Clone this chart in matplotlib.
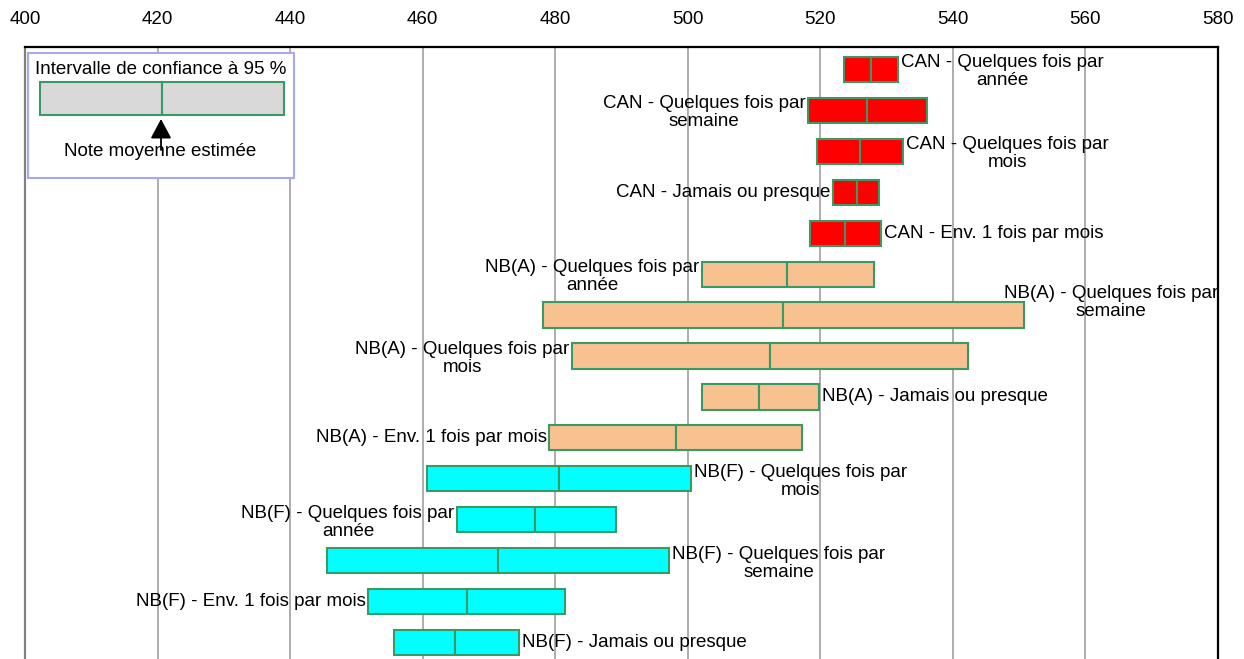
import matplotlib
matplotlib.use("Agg")
import matplotlib.pyplot as plt
from matplotlib.patches import Rectangle

plt.rcParams["font.family"] = ["Liberation Sans", "DejaVu Sans"]

# Groupes et fréquences, de haut en bas
labels = [
    "CAN - Quelques fois par\nannée",
    "CAN - Quelques fois par\nsemaine",
    "CAN - Quelques fois par\nmois",
    "CAN - Jamais ou presque",
    "CAN - Env. 1 fois par mois",
    "NB(A) - Quelques fois par\nannée",
    "NB(A) - Quelques fois par\nsemaine",
    "NB(A) - Quelques fois par\nmois",
    "NB(A) - Jamais ou presque",
    "NB(A) - Env. 1 fois par mois",
    "NB(F) - Quelques fois par\nmois",
    "NB(F) - Quelques fois par\nannée",
    "NB(F) - Quelques fois par\nsemaine",
    "NB(F) - Env. 1 fois par mois",
    "NB(F) - Jamais ou presque",
]
groups = ["CAN"] * 5 + ["NB(A)"] * 5 + ["NB(F)"] * 5

# Note moyenne estimée et intervalle de confiance à 95 %
means = [527.6, 527.0, 526.0, 525.5, 523.7,
         514.9, 514.4, 512.4, 510.8, 498.2,
         480.6, 477.0, 471.3, 466.7, 464.9]
lower = [523.6, 518.2, 519.5, 521.9, 518.5,
         502.1, 478.1, 482.5, 502.1, 479.1,
         460.7, 465.2, 445.6, 451.8, 455.6]
upper = [531.7, 536.1, 532.4, 528.8, 529.1,
         528.1, 550.8, 542.3, 519.8, 517.2,
         500.5, 489.1, 497.1, 481.4, 474.5]

# Côté de l'étiquette : à gauche (L), à droite (R) ou calée sur le bord (E)
label_side = ["R", "L", "R", "L", "R",
              "L", "E", "L", "R", "L",
              "R", "L", "R", "L", "R"]

xticks = [400, 420, 440, 460, 480, 500, 520, 540, 560, 580]

group_colors = {"CAN": "#ff0000", "NB(A)": "#f8c190", "NB(F)": "#00ffff"}
edge = "#3a9a66"
W, H = 1244, 659
FS = 13.5
LS = 1.12

fig = plt.figure(figsize=(W / 100, H / 100), dpi=100)
ax = fig.add_axes([25 / W, -6 / H, (1218 - 25) / W, (665 - 47) / H])

n = len(labels)
rows = list(range(n))
colors = [group_colors[g] for g in groups]
bh = 0.61

left_w = [m - lo for m, lo in zip(means, lower)]
right_w = [up - m for up, m in zip(upper, means)]
ax.barh(rows, left_w, left=lower, height=bh, color=colors,
        edgecolor=edge, linewidth=1.5, zorder=3)
ax.barh(rows, right_w, left=means, height=bh, color=colors,
        edgecolor=edge, linewidth=1.5, zorder=3)

for i, (lab, side) in enumerate(zip(labels, label_side)):
    dy = 0.06 if "\n" in lab else 0.0
    kw = dict(va="center", multialignment="center", fontsize=FS,
              linespacing=LS, zorder=4)
    if side == "R":
        ax.text(upper[i] + 0.5, i + dy, lab, ha="left", **kw)
    elif side == "L":
        ax.text(lower[i] - 0.4, i + dy, lab, ha="right", **kw)
    else:
        ax.text(580.0, i - 0.3, lab, ha="right", **kw)

ax.set_xlim(400, 580)
ax.set_ylim(n - 0.463, -0.537)
ax.set_xticks(xticks)
ax.xaxis.tick_top()
ax.tick_params(axis="x", length=0, pad=13.5, labelsize=FS)
ax.set_yticks([])
ax.grid(axis="x", color="#a0a0a0", linewidth=1.2, zorder=0)
ax.set_axisbelow(True)
for s in ["top", "right"]:
    ax.spines[s].set_color("black")
    ax.spines[s].set_linewidth(1.6)
ax.spines["left"].set_color("#808080")
ax.spines["left"].set_linewidth(1.6)
ax.spines["bottom"].set_visible(False)

# Encadré explicatif (coordonnées en pixels de la figure)
lg = fig.add_axes([0, 0, 1, 1], facecolor="none")
lg.set_xlim(0, W)
lg.set_ylim(H, 0)
lg.axis("off")
lg.add_patch(Rectangle((28, 52.5), 266, 125, facecolor="white",
                       edgecolor="#a8a8f0", linewidth=1.5, zorder=5))
lg.add_patch(Rectangle((39.5, 82), 122, 33, facecolor="#d9d9d9",
                       edgecolor=edge, linewidth=1.5, zorder=6))
lg.add_patch(Rectangle((161.5, 82), 122, 33, facecolor="#d9d9d9",
                       edgecolor=edge, linewidth=1.5, zorder=6))
lg.text(161, 69, "Intervalle de confiance à 95 %", ha="center", va="center",
        fontsize=FS, zorder=7)
lg.text(160, 152, "Note moyenne estimée", ha="center", va="center",
        fontsize=FS, zorder=7)
lg.annotate("", xy=(161, 119), xytext=(161, 150),
            arrowprops=dict(arrowstyle="-|>,head_length=0.75,head_width=0.4",
                            color="black", lw=1.3,
                            mutation_scale=16, shrinkA=0, shrinkB=0),
            zorder=8)

fig.savefig("out.png", dpi=100)
